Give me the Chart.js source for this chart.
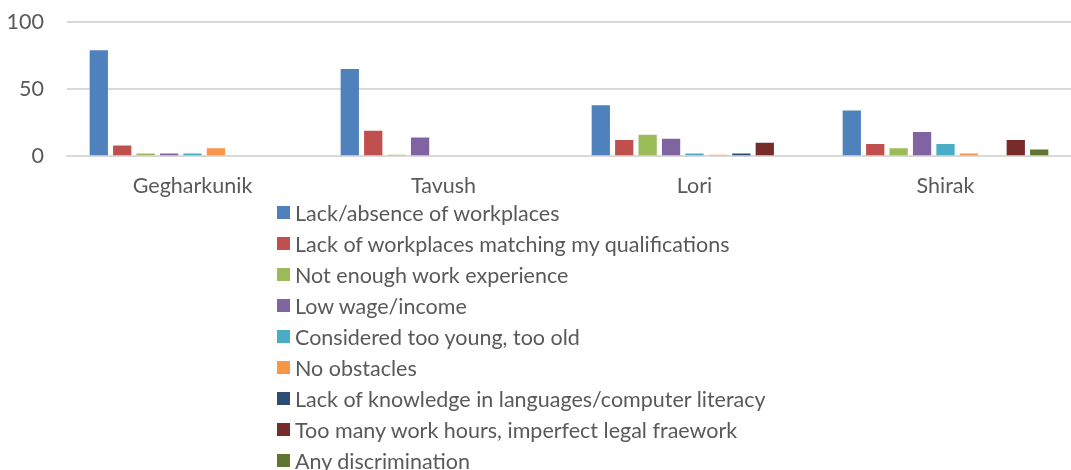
<!DOCTYPE html>
<html>
<head>
<meta charset="utf-8">
<script src="https://cdn.jsdelivr.net/npm/chart.js@4.4.1/dist/chart.umd.min.js"></script>
<style>
  html, body { margin: 0; padding: 0; background: #fff; }
  #wrap { position: relative; width: 1071px; height: 470px; overflow: hidden; }
  #box { position: absolute; left: 0; top: 0; width: 1071px; height: 208px; }
  #legend { position: absolute; left: 277px; top: 197px; font-family: Lato, 'Liberation Sans', sans-serif; font-size: 21.5px; color: #595959; }
  .li { height: 31px; display: flex; align-items: center; white-space: nowrap; }
  .sw { width: 13px; height: 13px; margin-right: 5px; flex: none; }
</style>
</head>
<body>
<div id="wrap">
  <div id="box"><canvas id="c"></canvas></div>
  <div id="legend"></div>
</div>
<script>
const categories = ["Gegharkunik", "Tavush", "Lori", "Shirak"];
const seriesNames = [
  "Lack/absence of workplaces",
  "Lack of workplaces matching my qualifications",
  "Not enough work experience",
  "Low wage/income",
  "Considered too young, too old",
  "No obstacles",
  "Lack of knowledge in languages/computer literacy",
  "Too many work hours, imperfect legal fraework",
  "Any discrimination"
];
const lackAbsence = [79, 65, 38, 34];
const lackMatching = [8, 19, 12, 9];
const notEnoughExperience = [2, 1, 16, 6];
const lowWage = [2, 14, 13, 18];
const tooYoungOld = [2, 0, 2, 9];
const noObstacles = [6, 0, 1, 2];
const lackKnowledge = [0, 0, 2, 0];
const tooManyHours = [0, 0, 10, 12];
const discrimination = [0, 0, 0, 5];
const yTicks = [0, 50, 100];
const colors = ["#4F81BD", "#C0504D", "#9BBB59", "#8064A2", "#4BACC6", "#F79646", "#2C4D75", "#772C2A", "#5F7530"];

const seriesValues = [lackAbsence, lackMatching, notEnoughExperience, lowWage, tooYoungOld, noObstacles, lackKnowledge, tooManyHours, discrimination];
const FONT = "Lato, 'Liberation Sans', sans-serif";

const chart = new Chart(document.getElementById('c'), {
  type: 'bar',
  data: {
    labels: categories,
    datasets: seriesNames.map((n, i) => ({
      label: n,
      data: seriesValues[i],
      backgroundColor: colors[i],
      borderWidth: 0,
      categoryPercentage: 0.84,
      barPercentage: 0.78
    }))
  },
  options: {
    responsive: true,
    maintainAspectRatio: false,
    animation: false,
    layout: { padding: { left: 0, right: 0, top: 0, bottom: 0 } },
    plugins: { legend: { display: false }, tooltip: { enabled: false } },
    scales: {
      x: {
        grid: { display: false },
        border: { display: true, color: '#d9d9d9', width: 2 },
        ticks: { color: '#595959', font: { family: FONT, size: 21.5 }, padding: 9 },
        afterFit: (s) => { s.paddingLeft = 0; s.paddingRight = 0; }
      },
      y: {
        min: 0, max: 100,
        afterBuildTicks: (s) => { s.ticks = yTicks.map(v => ({ value: v })); },
        afterFit: (s) => { s.width = 67; s.paddingTop = 22; s.paddingBottom = 0; },
        grid: { color: '#d9d9d9', lineWidth: 2, drawTicks: false },
        border: { display: false },
        ticks: { color: '#595959', font: { family: FONT, size: 21.5 }, padding: 23 }
      }
    }
  }
});

const leg = document.getElementById('legend');
chart.data.datasets.forEach(ds => {
  const row = document.createElement('div');
  row.className = 'li';
  const sw = document.createElement('span');
  sw.className = 'sw';
  sw.style.background = ds.backgroundColor;
  const t = document.createElement('span');
  t.textContent = ds.label;
  row.appendChild(sw); row.appendChild(t);
  leg.appendChild(row);
});
</script>
</body>
</html>
